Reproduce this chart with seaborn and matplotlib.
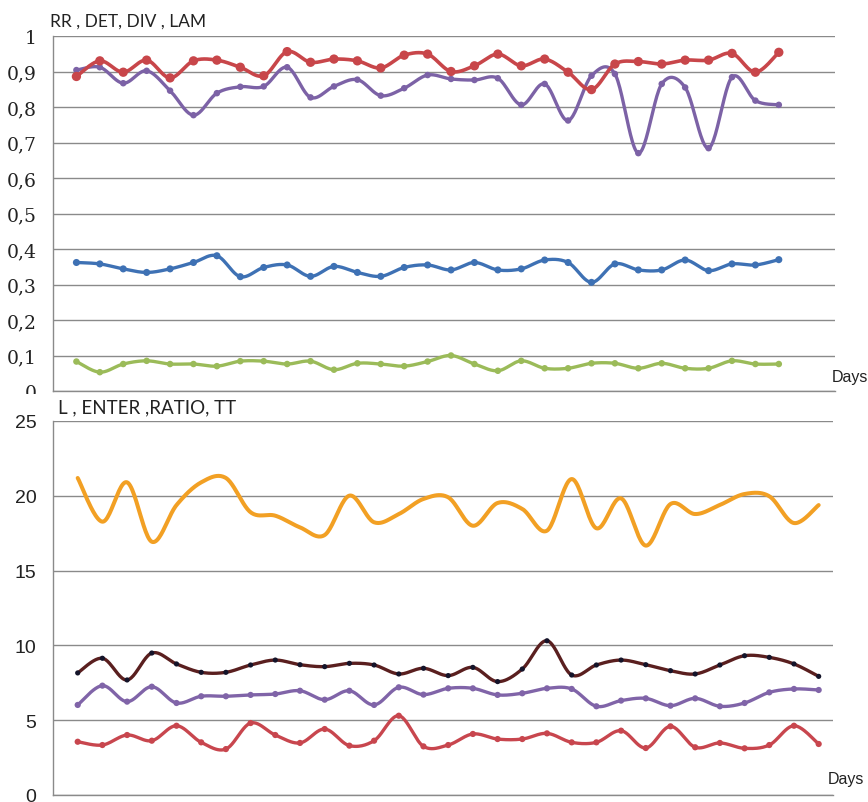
import numpy as np
import pandas as pd
import matplotlib
matplotlib.use("Agg")
import matplotlib.pyplot as plt
import seaborn as sns
from matplotlib.patches import Rectangle

# ---- data -------------------------------------------------------------
days = list(range(1, 32))

# upper panel: recurrence quantification measures
rr = [0.362, 0.358, 0.344, 0.334, 0.344, 0.362, 0.381, 0.322, 0.348, 0.355,
      0.323, 0.351, 0.334, 0.323, 0.348, 0.355, 0.341, 0.362, 0.341, 0.344,
      0.369, 0.362, 0.306, 0.358, 0.341, 0.341, 0.369, 0.339, 0.358, 0.355, 0.370]
det = [0.886, 0.930, 0.898, 0.932, 0.882, 0.930, 0.932, 0.912, 0.888, 0.956,
       0.926, 0.935, 0.930, 0.910, 0.946, 0.949, 0.900, 0.916, 0.949, 0.916,
       0.935, 0.898, 0.849, 0.921, 0.928, 0.921, 0.932, 0.932, 0.951, 0.898, 0.954]
div = [0.083, 0.053, 0.076, 0.085, 0.076, 0.076, 0.070, 0.084, 0.084, 0.076,
       0.084, 0.060, 0.078, 0.076, 0.070, 0.083, 0.100, 0.076, 0.057, 0.085,
       0.064, 0.064, 0.078, 0.078, 0.064, 0.078, 0.064, 0.064, 0.085, 0.076, 0.076]
lam = [0.904, 0.912, 0.867, 0.902, 0.846, 0.777, 0.839, 0.857, 0.858, 0.912,
       0.827, 0.858, 0.877, 0.832, 0.853, 0.890, 0.879, 0.876, 0.881, 0.806,
       0.865, 0.762, 0.888, 0.893, 0.670, 0.865, 0.855, 0.684, 0.884, 0.818, 0.806]

# lower panel
l_mean = [8.16, 9.14, 7.69, 9.49, 8.76, 8.20, 8.20, 8.69, 9.02, 8.71,
          8.58, 8.80, 8.69, 8.09, 8.47, 7.98, 8.53, 7.58, 8.42, 10.31,
          8.02, 8.69, 9.02, 8.71, 8.31, 8.09, 8.69, 9.31, 9.20, 8.76, 7.93]
enter = [3.56, 3.34, 4.01, 3.63, 4.63, 3.52, 3.07, 4.81, 4.01, 3.48,
         4.41, 3.30, 3.63, 5.30, 3.25, 3.34, 4.08, 3.74, 3.74, 4.12,
         3.52, 3.52, 4.30, 3.14, 4.59, 3.19, 3.48, 3.12, 3.34, 4.63, 3.41]
ratio = [21.19, 18.27, 20.90, 16.93, 19.38, 20.90, 21.19, 18.90, 18.67, 17.89,
         17.38, 20.01, 18.23, 18.78, 19.79, 19.90, 18.00, 19.52, 19.12, 17.67,
         21.12, 17.83, 19.83, 16.67, 19.45, 18.78, 19.39, 20.12, 19.97, 18.18, 19.38]
tt = [6.02, 7.31, 6.24, 7.24, 6.15, 6.60, 6.60, 6.69, 6.75, 6.97,
      6.37, 6.97, 6.02, 7.20, 6.71, 7.13, 7.13, 6.69, 6.80, 7.13,
      7.09, 5.93, 6.31, 6.46, 5.97, 6.46, 5.93, 6.15, 6.86, 7.09, 7.02]

top_yticks = [0, 0.1, 0.2, 0.3, 0.4, 0.5, 0.6, 0.7, 0.8, 0.9, 1.0]
top_ylabels = ["0", "0,1", "0,2", "0,3", "0,4", "0,5", "0,6", "0,7", "0,8", "0,9", "1"]
bot_yticks = [0, 5, 10, 15, 20, 25]
bot_ylabels = ["0", "5", "10", "15", "20", "25"]
xticks = [0, 5, 10, 15, 20, 25, 30]

top_title = "RR , DET, DIV , LAM"
bot_title = "L , ENTER ,RATIO, TT"
x_name = "Days"

# ---- helpers ----------------------------------------------------------
def smooth(x, y, n=24):
    """Bezier smoothing through every point (control points at 1/6 of neighbour chord)."""
    x = np.asarray(x, float)
    y = np.asarray(y, float)
    P = np.column_stack([x, y])
    P = np.vstack([P[0], P, P[-1]])
    t = np.linspace(0, 1, n, endpoint=False)[:, None]
    out = []
    for i in range(1, len(P) - 2):
        b0 = P[i]
        b1 = P[i] + (P[i + 1] - P[i - 1]) / 6
        b2 = P[i + 1] - (P[i + 2] - P[i]) / 6
        b3 = P[i + 1]
        seg = ((1 - t) ** 3) * b0 + 3 * ((1 - t) ** 2) * t * b1 + 3 * (1 - t) * t ** 2 * b2 + t ** 3 * b3
        out.append(seg)
    out.append(P[-2][None, :])
    out = np.vstack(out)
    return pd.DataFrame({"x": out[:, 0], "y": out[:, 1]})


def draw_series(ax, values, line_color, marker_color=None, lw=2.4, ms=20, markers=True, z=3):
    curve = smooth(days, values)
    sns.lineplot(data=curve, x="x", y="y", ax=ax, color=line_color, lw=lw,
                 sort=False, estimator=None, zorder=z)
    if markers:
        sns.scatterplot(x=days, y=values, ax=ax, color=marker_color or line_color,
                        s=ms, edgecolor="none", linewidth=0, zorder=z + 0.5)


def style_axes(ax, xmax, ymax, yticks, ylabels, label_font, label_size):
    ax.set_xlim(0, xmax)
    ax.set_ylim(0, ymax)
    ax.set_xticks(xticks)
    ax.set_xticklabels([])
    ax.set_yticks(yticks)
    ax.set_yticklabels(ylabels, fontfamily=label_font, fontsize=label_size, color="#222222")
    ax.grid(axis="y", color="#8a8a8a", lw=1.0)
    ax.grid(axis="x", visible=False)
    ax.set_axisbelow(True)
    for s in ("top", "right"):
        ax.spines[s].set_visible(False)
    for s in ("left", "bottom"):
        ax.spines[s].set_color("#8a8a8a")
        ax.spines[s].set_linewidth(1.0)
    ax.tick_params(axis="y", direction="out", length=5, width=1, color="#8a8a8a", pad=7)
    ax.tick_params(axis="x", direction="out", length=6, width=1, color="#8a8a8a")
    ax.set_xlabel("")
    ax.set_ylabel("")
    ax.set_facecolor("white")


# ---- figure -----------------------------------------------------------
sns.set_style("white")
plt.rcParams["font.family"] = ["Liberation Sans", "DejaVu Sans"]

W, H = 868, 803
fig = plt.figure(figsize=(W / 100, H / 100), dpi=100)
fig.patch.set_facecolor("white")

def fx(px):
    return px / W

def fy(py):
    return 1 - py / H

# upper panel
ax1 = fig.add_axes([fx(53), fy(392), fx(835 - 53), (392 - 37) / H])
ax1.set_zorder(0)
draw_series(ax1, rr, "#3E71B4", ms=26)
draw_series(ax1, div, "#9BBB59", ms=22)
draw_series(ax1, lam, "#7C62A6", ms=22, z=4)
draw_series(ax1, det, "#C8464A", ms=45, lw=2.6, z=5)
style_axes(ax1, 33.4, 1.0, top_yticks, top_ylabels, ["DejaVu Serif"], 13.5)

# lower panel (drawn above the white band so its tick labels stay whole)
ax2 = fig.add_axes([fx(53), fy(796), fx(833 - 53), (796 - 422) / H])
ax2.set_zorder(2)
draw_series(ax2, ratio, "#F2A024", lw=2.9, markers=False)
draw_series(ax2, enter, "#C8464E", ms=20)
draw_series(ax2, tt, "#8064A8", ms=20)
draw_series(ax2, l_mean, "#5A1F1F", marker_color="#14142A", ms=14, z=5)
style_axes(ax2, 31.58, 25, bot_yticks, bot_ylabels, ["Liberation Sans"], 14)

# white band between the two panels holding the lower title
fig.patches.append(Rectangle((0, fy(421)), 1, (421 - 395) / H, transform=fig.transFigure,
                             facecolor="white", edgecolor="none", zorder=1))

fig.text(fx(50), fy(22), top_title, fontsize=12.5, va="center", ha="left",
         color="#222222", family=["Lato", "DejaVu Sans"], zorder=6)
fig.text(fx(58), fy(408), bot_title, fontsize=13.5, va="center", ha="left",
         color="#222222", family=["Lato", "DejaVu Sans"], zorder=6)
fig.text(fx(832), fy(378), x_name, fontsize=11.5, va="center", ha="left",
         color="#222222", zorder=6)
fig.text(fx(828), fy(780), x_name, fontsize=11.5, va="center", ha="left",
         color="#222222", zorder=6)

fig.savefig("out.png", dpi=100, facecolor="white")
